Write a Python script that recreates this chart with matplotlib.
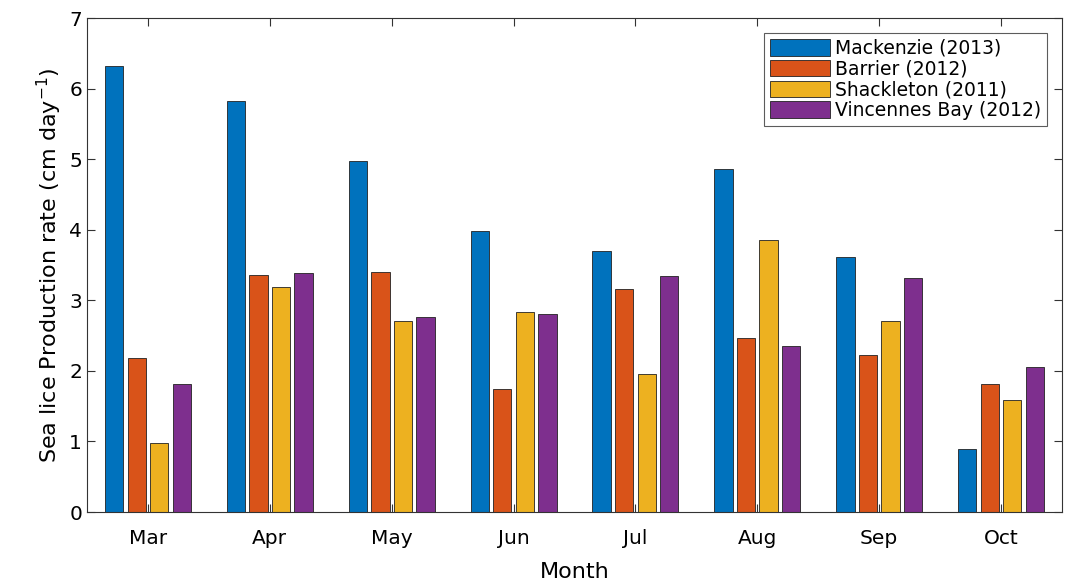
import numpy as np
import matplotlib.pyplot as plt

months = ["Mar", "Apr", "May", "Jun", "Jul", "Aug", "Sep", "Oct"]
series_names = ["Mackenzie (2013)", "Barrier (2012)", "Shackleton (2011)", "Vincennes Bay (2012)"]
mackenzie = [6.32, 5.82, 4.97, 3.98, 3.70, 4.86, 3.61, 0.89]
barrier = [2.18, 3.36, 3.40, 1.75, 3.16, 2.46, 2.22, 1.82]
shackleton = [0.98, 3.19, 2.70, 2.83, 1.96, 3.85, 2.70, 1.58]
vincennes = [1.82, 3.39, 2.76, 2.81, 3.35, 2.35, 3.32, 2.05]
colors = ["#0072BD", "#D95319", "#EDB120", "#7E2F8E"]

fig = plt.figure(figsize=(10.79, 5.86), dpi=100)
ax = fig.add_axes([87/1079, 1-512/586, 975/1079, 494/586])

x = np.arange(1, len(months) + 1)
offsets = [-1.5, -0.5, 0.5, 1.5]
for data, name, c, off in zip([mackenzie, barrier, shackleton, vincennes], series_names, colors, offsets):
    ax.bar(x + off * 0.185, data, width=0.15, color=c, edgecolor="#222222", linewidth=0.6, label=name)

ax.set_xlim(0.5, 8.5)
ax.set_ylim(0, 7)
ax.set_xticks(x)
ax.set_xticklabels(months)
ax.set_yticks(range(8))
ax.tick_params(labelsize=14.5, direction="in", top=True, right=True, length=6, color="#333333")
ax.tick_params(axis="x", pad=12)
for s in ax.spines.values():
    s.set_color("#333333")
ax.set_xlabel("Month", fontsize=16, labelpad=10)
ax.set_ylabel("Sea lice Production rate (cm day$^{-1}$)", fontsize=16)
leg = ax.legend(loc="upper right", fontsize=13.5, fancybox=False, edgecolor="#333333",
                handlelength=3.2, handleheight=1.0, handletextpad=0.3, borderaxespad=0.8,
                labelspacing=0.1, borderpad=0.3)
leg.get_frame().set_linewidth(0.8)

fig.savefig("out.png", dpi=100)
